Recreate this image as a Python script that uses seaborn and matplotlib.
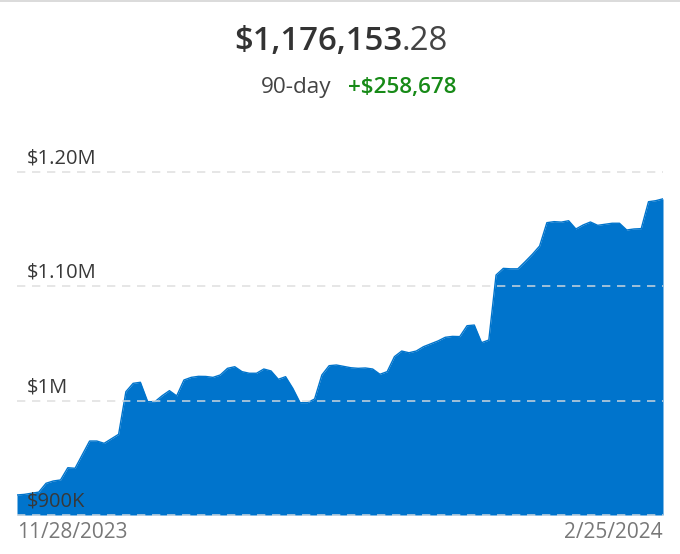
import matplotlib
matplotlib.use("Agg")
import matplotlib.pyplot as plt
import seaborn as sns
import pandas as pd
import numpy as np

# ---- data ----
start_date = "2023-11-28"
day_offsets = [0, 1, 3, 4, 5, 6, 7, 8, 10, 11, 12, 14, 15, 16, 17, 18, 19, 20, 21, 22,
               23, 24, 25, 26, 27, 28, 29, 30, 31, 32, 33, 34, 35, 36, 37, 38, 39, 40,
               41, 42, 43, 44, 46, 47, 48, 49, 50, 51, 52, 53, 54, 55, 56, 58, 59, 60,
               61, 62, 63, 64, 65, 66, 67, 68, 69, 70, 71, 72, 73, 74, 75, 76, 77, 78,
               79, 80, 82, 83, 84, 85, 86, 87, 88, 89]
values_k = [917.5, 918.0, 920.0, 927.7, 929.7, 930.6, 941.3, 940.8, 964.6, 964.6,
            962.6, 970.5, 1007.7, 1015.0, 1015.9, 999.0, 999.0, 1004.2, 1008.6, 1004.0,
            1017.9, 1020.2, 1021.1, 1021.0, 1020.2, 1022.3, 1028.1, 1029.5, 1025.2, 1023.8,
            1023.8, 1027.5, 1025.8, 1018.5, 1020.8, 1010.6, 998.1, 998.1, 1001.3, 1022.3,
            1030.4, 1031.0, 1028.6, 1028.1, 1028.4, 1027.5, 1022.9, 1025.2, 1038.3, 1043.2,
            1041.7, 1043.2, 1047.0, 1052.0, 1055.2, 1056.0, 1055.8, 1065.3, 1065.9, 1050.5,
            1052.8, 1109.6, 1115.4, 1115.0, 1115.0, 1121.2, 1127.7, 1134.9, 1155.3, 1156.2,
            1155.8, 1157.0, 1149.8, 1153.3, 1155.9, 1153.0, 1154.8, 1154.8, 1148.9, 1149.8,
            1150.1, 1173.6, 1174.5, 1176.153]
ytick_values = [900000, 1000000, 1100000, 1200000]
ytick_labels = ["$900K", "$1M", "$1.10M", "$1.20M"]
x_labels = ["11/28/2023", "2/25/2024"]
title_main = "$1,176,153"
title_cents = ".28"
period_label = "90-day"
change_label = "+$258,678"

# ---- style ----
sns.set_theme(style="white")
plt.rcParams["font.family"] = ["Open Sans", "DejaVu Sans"]

blue = "#0074cc"
dates = pd.to_datetime(start_date) + pd.to_timedelta(day_offsets, unit="D")
values = np.array(values_k) * 1000
df = pd.DataFrame({"date": dates, "value": values})

W, H = 680, 554
fig = plt.figure(figsize=(W / 100, H / 100), dpi=100)
ax = fig.add_axes([17 / W, 1 - 515 / H, 646 / W, (515 - 140) / H])

ax.fill_between(df["date"], df["value"], 900000, color=blue, lw=0, zorder=1)
sns.lineplot(data=df, x="date", y="value", color=blue, lw=1, ax=ax, zorder=2)

ymax = 900000 + (515 - 140) / 114.5 * 100000
ax.set_ylim(900000, ymax)
ax.set_xlim(dates[0], dates[-1])

for v in ytick_values:
    ax.axhline(v, color="#dddddd", alpha=0.85, ls=(0, (5, 4)), lw=1.2, zorder=3, clip_on=False)

for v, lab in zip(ytick_values, ytick_labels):
    ax.annotate(lab, xy=(10 / 646, v), xycoords=("axes fraction", "data"),
                xytext=(0, 9.5), textcoords="offset points", ha="left", va="center",
                fontsize=14.5, color="#383838", zorder=5)

ax.set_yticks([])
ax.set_xticks([dates[0], dates[-1]], labels=x_labels)
ax.tick_params(axis="x", length=0, pad=5, labelsize=15, labelcolor="#787878")
xt = ax.get_xticklabels()
xt[0].set_ha("left")
xt[-1].set_ha("right")
ax.set_xlabel("")
ax.set_ylabel("")
for s in ax.spines.values():
    s.set_visible(False)

# header texts
fig.text(402 / W, 1 - 41.5 / H, title_main, ha="right", va="center", fontsize=23.8,
         fontweight="semibold", color="#333333")
fig.text(402 / W, 1 - 41.5 / H, title_cents, ha="left", va="center", fontsize=23.8,
         fontweight="normal", color="#444444")
fig.text(331 / W, 1 - 88 / H, period_label, ha="right", va="center", fontsize=16.2,
         color="#444444")
fig.text(348 / W, 1 - 88 / H, change_label, ha="left", va="center", fontsize=16.2,
         fontweight="semibold", color="#178a17")

# top border line
fig.add_artist(plt.Line2D([0, 1], [1 - 1 / H, 1 - 1 / H], transform=fig.transFigure,
                          color="#d4d4d4", lw=1.2))

fig.savefig("out.png", dpi=100)
